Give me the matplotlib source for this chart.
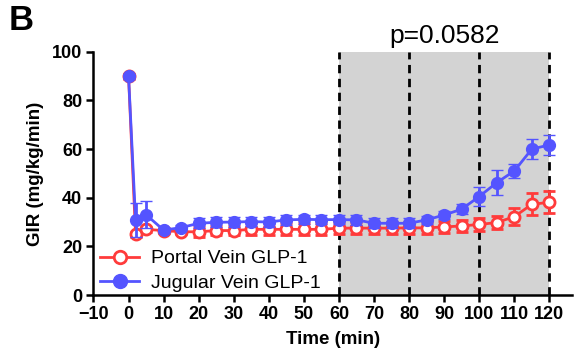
import matplotlib
matplotlib.use("Agg")
import matplotlib.pyplot as plt
from matplotlib.lines import Line2D

time = [0, 2, 5, 10, 15, 20, 25, 30, 35, 40, 45, 50, 55, 60, 65, 70, 75, 80, 85, 90, 95, 100, 105, 110, 115, 120]
portal = [90, 25, 27, 26.5, 26, 26, 26.5, 26.5, 27, 27, 27, 27, 27, 27.5, 27.5, 27.5, 27.5, 27.6, 27.6, 28, 28.4, 29, 29.8, 32.2, 37.3, 38.1]
portal_err = [1, 1, 1, 1, 1, 2, 2, 2, 2.5, 2.5, 2.5, 2.5, 2.5, 2.5, 2.5, 2.5, 2.5, 2.5, 2.5, 2.5, 2.5, 2.5, 2.5, 3.5, 4.5, 4.5]
jugular = [90, 31, 33, 26.7, 27.7, 29.5, 29.9, 30, 30.2, 30, 30.9, 31.1, 31, 31, 30.9, 29.5, 29.5, 29.5, 30.9, 32.9, 35.3, 40.5, 46.2, 51, 60, 61.7]
jugular_err = [1, 7, 5.5, 1, 1, 2, 2, 2, 2, 2, 2, 2, 2, 2, 2, 2, 2, 2, 1.5, 1.5, 2, 4, 5, 3, 4, 4]
xticks = list(range(-10, 121, 10))
yticks = list(range(0, 101, 20))
dashed_x = [60, 80, 100, 120]

plt.rcParams['font.family'] = ['Liberation Sans', 'DejaVu Sans']

fig = plt.figure(figsize=(5.77, 3.62), dpi=100)
ax = fig.add_axes([0.162, 0.185, 0.829, 0.672])

red = '#FF3B3B'
blue = '#5454FF'

ax.axvspan(60, 120, color='#D3D3D3', zorder=0, lw=0)
for xv in dashed_x:
    ax.axvline(xv, color='black', ls=(0, (3, 2)), lw=2, zorder=1)

ax.errorbar(time, portal, yerr=portal_err, color=red, lw=2, marker='o', ms=8,
            mfc='white', mec=red, mew=2, capsize=4.5, capthick=2, elinewidth=2,
            zorder=3)
ax.errorbar(time, jugular, yerr=jugular_err, color=blue, lw=2, marker='o', ms=8.5,
            mfc=blue, mec=blue, mew=1, capsize=4.5, capthick=2, elinewidth=2,
            zorder=4)

ax.set_xlim(-10, 126.4)
ax.set_ylim(0, 100)
ax.set_xticks(xticks)
ax.set_yticks(yticks)
ax.spines['top'].set_visible(False)
ax.spines['right'].set_visible(False)
ax.spines['left'].set_linewidth(1.8)
ax.spines['bottom'].set_linewidth(1.8)
ax.tick_params(direction='out', width=1.8, length=5, labelsize=13, pad=3)
for lab in ax.get_xticklabels() + ax.get_yticklabels():
    lab.set_fontweight('bold')

ax.set_xlabel('Time (min)', fontsize=13.5, fontweight='bold', labelpad=6)
ax.set_ylabel('GIR (mg/kg/min)', fontsize=13.5, fontweight='bold', labelpad=6)

ax.text(90, 101.5, 'p=0.0582', fontsize=19, ha='center', va='bottom')
fig.text(0.015, 0.99, 'B', fontsize=25, fontweight='bold', ha='left', va='top')

handles = [
    Line2D([], [], color=red, lw=2, marker='o', ms=9, mfc='white', mec=red, mew=2),
    Line2D([], [], color=blue, lw=2, marker='o', ms=10, mfc=blue, mec=blue),
]
ax.legend(handles, ['Portal Vein GLP-1', 'Jugular Vein GLP-1'], loc='lower left',
          bbox_to_anchor=(-0.01, -0.035), frameon=False, fontsize=14,
          handlelength=2.0, handletextpad=0.6, labelspacing=0.35, borderaxespad=0.2)

fig.savefig('out.png', dpi=100)
